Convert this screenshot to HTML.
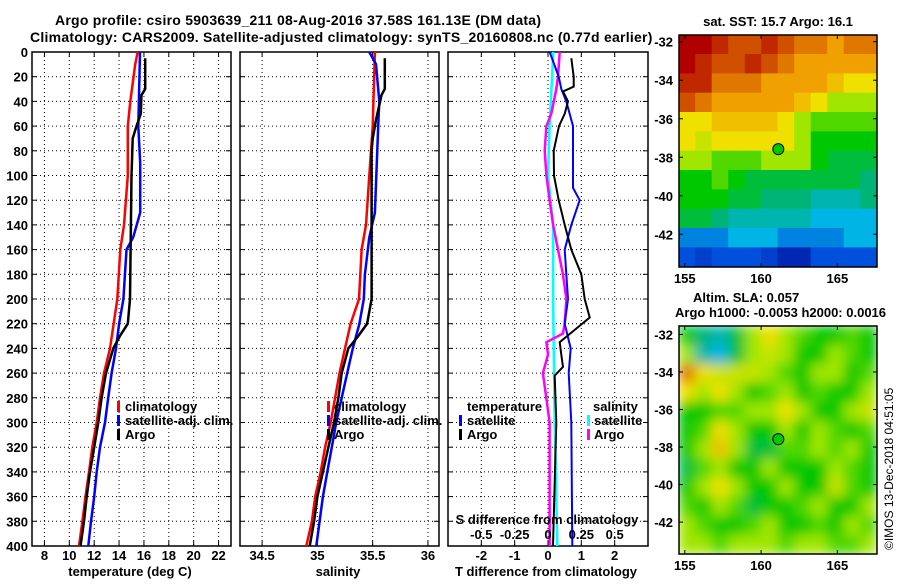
<!DOCTYPE html>
<html><head><meta charset="utf-8"><style>
html,body{margin:0;padding:0;background:#fff}
svg text{font-family:"Liberation Sans",sans-serif;font-weight:bold;font-size:13px;fill:#000}
svg text.ttl{font-size:14px;letter-spacing:0.25px}
</style></head><body>
<svg id="chart" width="900" height="580" viewBox="0 0 900 580" xmlns="http://www.w3.org/2000/svg">
<text class="ttl" x="55" y="25">Argo profile: csiro 5903639_211 08-Aug-2016 37.58S 161.13E (DM data)</text>
<text class="ttl" x="30" y="42">Climatology: CARS2009. Satellite-adjusted climatology: synTS_20160808.nc (0.77d earlier)</text>
<text x="778" y="26" text-anchor="middle">sat. SST: 15.7 Argo: 16.1</text>
<text x="693" y="302">Altim. SLA: 0.057</text>
<text x="675" y="317">Argo h1000: -0.0053 h2000: 0.0016</text>
<text transform="translate(893,550) rotate(-90)" style="font-weight:normal;font-size:12px">©IMOS 13-Dec-2018 04:51:05</text>
<g id="g"></g>
</svg>
<script>
const depthTicks=[0,20,40,60,80,100,120,140,160,180,200,220,240,260,280,300,320,340,360,380,400];
const tempTicks=[8,10,12,14,16,18,20,22];
const salTicks=[34.5,35,35.5,36];
const salTickLabels=["34.5","35","35.5","36"];
const dTTicks=[-2,-1,0,1,2];
const dSTicks=[-0.5,-0.25,0,0.25,0.5];
const dSTickLabels=["-0.5","-0.25","0","0.25","0.5"];

const climTDepth=[0,10,40,60,100,140,160,200,240,260,280,300,320,340,360,380,400];
const climT=[15.5,15.3,14.9,14.7,14.7,14.4,14.1,13.86,13.27,12.79,12.47,12.2,11.85,11.58,11.3,11.05,10.78];
const satTDepth=[0,60,90,130,150,160,200,220,240,260,280,300,320,340,360,380,400];
const satT=[15.68,15.55,15.7,15.7,15.14,14.6,14.35,14.0,13.75,13.4,13.13,12.87,12.47,12.2,12.0,11.74,11.53];
const argoTDepth=[5,30,35,50,60,70,100,200,220,230,240,260,280,300,320,340,360,380,400];
const argoT=[16.1,16.1,15.8,15.75,15.4,15.1,15.0,14.88,14.7,14.07,13.54,12.95,12.6,12.33,12.0,11.66,11.4,11.18,10.9];

const climSDepth=[0,60,100,140,160,200,220,240,260,280,300,320,340,360,380,400];
const climS=[35.52,35.5,35.47,35.44,35.4,35.376,35.3,35.25,35.2,35.16,35.12,35.07,35.03,34.98,34.95,34.9];
const satSDepth=[0,10,40,60,130,150,180,200,220,240,260,280,300,320,340,360,380,400];
const satS=[35.47,35.53,35.56,35.55,35.52,35.47,35.43,35.42,35.38,35.32,35.27,35.22,35.17,35.13,35.09,35.05,35.02,34.99];
const argoSDepth=[5,30,35,55,70,80,200,220,230,240,260,280,300,320,340,360,380,400];
const argoS=[35.61,35.61,35.58,35.53,35.5,35.49,35.49,35.45,35.37,35.28,35.22,35.19,35.15,35.1,35.05,35.0,34.97,34.93];

const satDTDepth=[0,20,30,40,60,110,120,140,160,180,200,220,240,260,300,400];
const satDT=[0.05,0.32,0.4,0.55,0.75,0.75,0.95,0.7,0.5,0.55,0.6,0.5,0.68,0.62,0.7,0.73];
const argoDTDepth=[5,20,28,32,40,50,60,80,100,120,140,160,180,200,215,225,235,245,255,262,300,400];
const argoDT=[0.7,0.77,0.77,0.45,0.6,0.5,0.33,0.17,0.18,0.32,0.5,0.7,1.0,1.1,1.25,0.8,0.35,0.4,0.45,0.2,0.25,0.15];
const satDSDepth=[0,60,100,140,200,300,400];
const satDS=[0.04,0.012,0,0.038,0.038,0.05,0.07];
const argoDSDepth=[0,20,30,50,60,80,100,120,140,160,180,200,220,228,235,245,260,300,400];
const argoDS=[0.088,0.075,0.062,0.025,-0.012,-0.025,-0.012,0.012,0.038,0.075,0.112,0.138,0.125,0.112,-0.012,0,-0.038,0.012,0.012];

const sstGrid=[
[9,9,8.5,8,8,8.5,8,7.5,7.5,7,7.5,7.5],
[9,8.5,8,8,8.5,8,7.5,7,7,7,7,7],
[8.5,8.5,7.5,7.5,7.5,7,7,7,7,6.5,6,6],
[8,7.5,7,7,7,7,7,6.5,6,5,5,5],
[6,6,6.5,6.5,6.5,6.5,6,5,4.5,4.5,4.5,4.5],
[6,5.5,6,6,6,6,6,5,4,4,4,4],
[5,5,4.5,4.5,4.5,5,5,5,4,3.5,3.5,3.5],
[4,4,4.5,4,3.5,3.5,3.5,3.5,3.5,3.5,3.5,3],
[4,4,4,3.5,3.5,3,3,3,2.5,2.5,2.5,3],
[3.5,3.5,3,2.5,2.5,2.5,2.5,2.5,2,2,2,2],
[1.5,1.5,1.5,2,2,2,1.5,1.5,1.5,1.5,2,2],
[1,0.8,1,1,1,0.8,0.5,0.5,1,1,1,1]];
const slaGrid=[
[4,3,2.5,3.5,5,6,5,4.5,4,4,4.5,4],
[5,2.5,2,3.5,5,5.5,5,4,4,5,4.5,4],
[7.5,6,5.5,5.5,5.5,5,4.5,4,5,5,4,4.5],
[6,5,6,5,4,4.5,5,4,4.5,4,4,5],
[4,4,4.5,4.5,5,5,6,5,4,4,5,5.5],
[4,4.5,6,5,4,4,5,4,5,4.5,4,4.5],
[4,5,6.5,5,3.5,3.5,4.5,4.5,5,4.5,5,4],
[3.5,4.5,5,4,4,5,4,4,4,5,4.5,4],
[4,5,6,5,4,4,5,4,4,5.5,4.5,4],
[4.5,4,5,4.5,3.5,4,4,4.5,5,4,4,5],
[5,4.5,4,4,4.5,5,4,4,4.5,4,5,4.5],
[5,5,4.5,5,5,5,4.5,5,5,4.5,4.5,5]];
const lonTicks=[155,160,165];
const latTicks=[-32,-34,-36,-38,-40,-42];
const argoLon=161.13, argoLat=-37.58;

const NS="http://www.w3.org/2000/svg";
const G=document.getElementById('g');
function mk(t,a,p){const e=document.createElementNS(NS,t);for(const k in a)e.setAttribute(k,a[k]);(p||G).appendChild(e);return e;}
const Y0=52,Y1=546;
const yD=d=>Y0+(d/400)*(Y1-Y0);
function lin(d0,d1,r0,r1){return v=>r0+(v-d0)/(d1-d0)*(r1-r0);}
const P1={x0:32,x1:231},P2={x0:240,x1:439},P3={x0:448,x1:648};
const xT=lin(7,23,P1.x0,P1.x1), xS=lin(34.3,36.1,P2.x0,P2.x1), xDT=lin(-3,3,P3.x0,P3.x1), xDS=lin(-0.75,0.75,P3.x0,P3.x1);

function panel(P,name,xs,xf){
  const g=mk('g',{});
  
  
  xs.forEach(v=>{const x=xf(v);mk('line',{x1:x,x2:x,y1:Y0,y2:Y1,stroke:'#000','stroke-width':1,'stroke-dasharray':'1,3'},g);
    mk('line',{x1:x,x2:x,y1:Y1,y2:Y1-5,stroke:'#000'},g);mk('line',{x1:x,x2:x,y1:Y0,y2:Y0+5,stroke:'#000'},g);});
  depthTicks.forEach(d=>{const y=yD(d);if(d>0&&d<400)mk('line',{x1:P.x0,x2:P.x1,y1:y,y2:y,stroke:'#000','stroke-dasharray':'1,3'},g);
    mk('line',{x1:P.x0,x2:P.x0+5,y1:y,y2:y,stroke:'#000'},g);mk('line',{x1:P.x1,x2:P.x1-5,y1:y,y2:y,stroke:'#000'},g);});
  mk('rect',{x:P.x0,y:Y0,width:P.x1-P.x0,height:Y1-Y0,fill:'none',stroke:'#000','stroke-width':1.5},g);
  return g;
}
function series(g,depths,vals,xf,color,w,name){
  const pts=depths.map((d,i)=>xf(vals[i]).toFixed(1)+','+yD(d).toFixed(1)).join(' ');
  const l=mk('polyline',{points:pts,fill:'none',stroke:color,'stroke-width':w},g);
  
  
}
function txt(s,x,y,anchor,name,g){const t=mk('text',{x:x,y:y,'text-anchor':anchor||'start'},g);t.textContent=s;
  
  return t;}
function legMark(g,x,y,color){mk('rect',{x:x,y:y-10,width:3,height:11,fill:color},g);}

// Panel 1
const g1=panel(P1,'temperature-panel',tempTicks,xT);
depthTicks.forEach(d=>txt(String(d),28,yD(d)+5,'end','depth-tick-label',g1));
tempTicks.forEach(v=>txt(String(v),xT(v),560,'middle','temperature-tick-label',g1));
txt('temperature (deg C)',130,576,'middle','temperature-axis-title',g1);
series(g1,climTDepth,climT,xT,'#f00',2.5,'climatology-temperature-line');
series(g1,satTDepth,satT,xT,'#00f',2.5,'satellite-temperature-line');
series(g1,argoTDepth,argoT,xT,'#000',2.5,'argo-temperature-line');
legMark(g1,117,411,'#f00');txt('climatology',125,411,'start','legend-climatology',g1);
legMark(g1,117,425,'#00f');txt('satellite-adj. clim.',125,425,'start','legend-satellite-adj',g1);
legMark(g1,117,439,'#000');txt('Argo',125,439,'start','legend-argo',g1);

// Panel 2
const g2=panel(P2,'salinity-panel',salTicks,xS);
salTicks.forEach((v,i)=>txt(salTickLabels[i],xS(v),560,'middle','salinity-tick-label',g2));
txt('salinity',338,576,'middle','salinity-axis-title',g2);
series(g2,climSDepth,climS,xS,'#f00',2.5,'climatology-salinity-line');
series(g2,satSDepth,satS,xS,'#00f',2.5,'satellite-salinity-line');
series(g2,argoSDepth,argoS,xS,'#000',2.5,'argo-salinity-line');
legMark(g2,327,411,'#f00');txt('climatology',334,411,'start','legend-climatology',g2);
legMark(g2,327,425,'#00f');txt('satellite-adj. clim.',334,425,'start','legend-satellite-adj',g2);
legMark(g2,327,439,'#000');txt('Argo',334,439,'start','legend-argo',g2);

// Panel 3
const g3=panel(P3,'difference-panel',dTTicks,xDT);
dTTicks.forEach(v=>txt(String(v),xDT(v),560,'middle','t-diff-tick-label',g3));
txt('T difference from climatology',546,576,'middle','t-diff-axis-title',g3);
series(g3,satDSDepth,satDS,xDS,'#0ff',2.5,'satellite-salinity-diff-line');
series(g3,argoDSDepth,argoDS,xDS,'#f0f',2.5,'argo-salinity-diff-line');
series(g3,satDTDepth,satDT,xDT,'#00f',2,'satellite-temperature-diff-line');
series(g3,argoDTDepth,argoDT,xDT,'#000',2,'argo-temperature-diff-line');
txt('S difference from climatology',547,524,'middle','s-diff-axis-title',g3);
dSTicks.forEach((v,i)=>txt(dSTickLabels[i],xDS(v),539,'middle','s-diff-tick-label',g3));
txt('temperature',467,411,'start','legend-temperature-heading',g3);
legMark(g3,459,425,'#00f');txt('satellite',467,425,'start','legend-temperature-satellite',g3);
legMark(g3,459,439,'#000');txt('Argo',467,439,'start','legend-temperature-argo',g3);
txt('salinity',593,411,'start','legend-salinity-heading',g3);
legMark(g3,587,425,'#0ff');txt('satellite',594,425,'start','legend-salinity-satellite',g3);
legMark(g3,587,439,'#f0f');txt('Argo',594,439,'start','legend-salinity-argo',g3);

// Maps
const stops=[[0,0,140],[0,80,220],[0,180,230],[0,180,120],[0,200,0],[160,230,0],[240,224,0],[240,160,0],[208,80,0],[176,0,0]];
function cmap(v){v=Math.max(0,Math.min(9,v));const i=Math.min(8,Math.floor(v)),f=v-i,a=stops[i],b=stops[i+1];
  return 'rgb('+a.map((c,k)=>Math.round(c+(b[k]-c)*f)).join(',')+')';}
function map(name,grid,box,lonR,latR,blur){
  const g=mk('g',{});
  
  
  const xL=lin(lonR[0],lonR[1],box.x0,box.x1), yL=lin(latR[0],latR[1],box.y0,box.y1);
  const cid=name+'-clip';
  const cp=mk('clipPath',{id:cid},g);mk('rect',{x:box.x0,y:box.y0,width:box.x1-box.x0,height:box.y1-box.y0},cp);
  const inner=mk('g',{'clip-path':'url(#'+cid+')'},g);
  const cells=mk('g',blur?{filter:'url(#blr)'}:{},inner);
  const R=grid.length,C=grid[0].length,cw=(box.x1-box.x0)/C,ch=(box.y1-box.y0)/R;
  grid.forEach((row,r)=>row.forEach((v,c)=>{
    const cell=mk('rect',{x:(box.x0+c*cw-0.3).toFixed(1),y:(box.y0+r*ch-0.3).toFixed(1),width:(cw+0.6).toFixed(1),height:(ch+0.6).toFixed(1),fill:cmap(v)},cells);
    
    
  }));
  mk('rect',{x:box.x0,y:box.y0,width:box.x1-box.x0,height:box.y1-box.y0,fill:'none',stroke:'#000','stroke-width':1.5},g);
  lonTicks.forEach(v=>{const x=xL(v);mk('line',{x1:x,x2:x,y1:box.y1,y2:box.y1-4,stroke:'#000'},g);mk('line',{x1:x,x2:x,y1:box.y0,y2:box.y0+4,stroke:'#000'},g);
    txt(String(v),x,box.y1+16,'middle','longitude-tick-label',g);});
  latTicks.forEach(v=>{const y=yL(v);mk('line',{x1:box.x0,x2:box.x0+4,y1:y,y2:y,stroke:'#000'},g);mk('line',{x1:box.x1,x2:box.x1-4,y1:y,y2:y,stroke:'#000'},g);
    txt(String(v),box.x0-6,y+5,'end','latitude-tick-label',g);});
  const m=mk('circle',{cx:xL(argoLon),cy:yL(argoLat),r:5.5,fill:'#00c800',stroke:'#000','stroke-width':1},g);
  
  
}
const defs=mk('defs',{});const flt=mk('filter',{id:'blr',x:'-5%',y:'-5%',width:'110%',height:'110%'},defs);
mk('feGaussianBlur',{stdDeviation:6,edgeMode:'duplicate'},flt);
map('sst-map',sstGrid,{x0:679,x1:877,y0:35,y1:267},[154.62,167.6],[-31.65,-43.7],false);
map('sla-map',slaGrid,{x0:679,x1:877,y0:326,y1:554},[154.62,167.6],[-31.55,-43.7],true);
</script>
</body></html>
